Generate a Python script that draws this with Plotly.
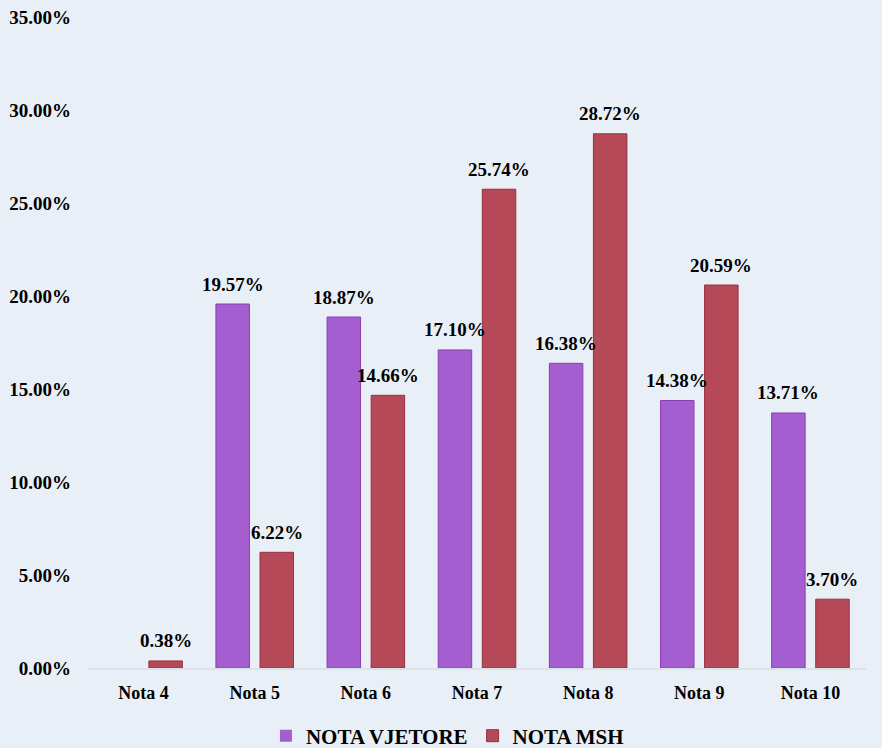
import plotly.graph_objects as go

categories = ["Nota 4", "Nota 5", "Nota 6", "Nota 7", "Nota 8", "Nota 9", "Nota 10"]
nota_vjetore = [0.0, 19.57, 18.87, 17.10, 16.38, 14.38, 13.71]
nota_msh = [0.38, 6.22, 14.66, 25.74, 28.72, 20.59, 3.70]
series_names = ["NOTA VJETORE", "NOTA MSH"]
y_ticks = [0, 5, 10, 15, 20, 25, 30, 35]
y_tick_labels = [f"{t:.2f}%" for t in y_ticks]

FONT = "Liberation Serif"
BG = "#E9EFF6"

fig = go.Figure()
fig.add_trace(go.Bar(
    name=series_names[0], x=categories, y=nota_vjetore,
    marker=dict(color="#A45ECF",
                line=dict(color="#8A3DB5", width=[0 if v == 0 else 1 for v in nota_vjetore])),
))
fig.add_trace(go.Bar(
    name=series_names[1], x=categories, y=nota_msh,
    marker=dict(color="#B54958",
                line=dict(color="#9A3040", width=[0 if v == 0 else 1 for v in nota_msh])),
))

annotations = []
for vals, shift in ((nota_vjetore, -22), (nota_msh, 22)):
    for c, v in zip(categories, vals):
        if v == 0:
            continue
        annotations.append(dict(
            x=c, y=v, xref="x", yref="y", text=f"<b>{v:.2f}%</b>",
            showarrow=False, xshift=shift, yshift=20,
            font=dict(family=FONT, size=19, color="#000000"),
        ))

fig.update_layout(
    width=882, height=748,
    paper_bgcolor=BG, plot_bgcolor=BG,
    margin=dict(l=88, r=16, t=17, b=80, autoexpand=False),
    barmode="group", bargap=0.207, bargroupgap=0.24,
    font=dict(family=FONT, size=18, color="#000000"),
    showlegend=True,
    legend=dict(
        orientation="h", x=0.462, xanchor="center", y=-0.1045, yanchor="middle",
        font=dict(family=FONT, size=21, color="#000000", weight="bold"),
        bgcolor="rgba(0,0,0,0)", itemwidth=30, tracegroupgap=0,
    ),
    annotations=annotations,
)
fig.update_xaxes(
    showgrid=False, showline=True, linecolor="#DCE2EA", linewidth=2,
    ticks="", ticklabelstandoff=7,
    tickfont=dict(family=FONT, size=18, color="#000000", weight="bold"),
)
fig.update_yaxes(
    range=[0, 35], tickvals=y_ticks, ticktext=y_tick_labels,
    showgrid=False, zeroline=False, showline=False, ticks="",
    ticklabelstandoff=16,
    tickfont=dict(family=FONT, size=19, color="#000000", weight="bold"),
)

fig.write_html(
    "out.html",
    config={"displayModeBar": False},
    post_script="document.body.style.margin='0';document.body.style.overflow='hidden';"
                "document.body.style.background='" + BG + "';",
)
